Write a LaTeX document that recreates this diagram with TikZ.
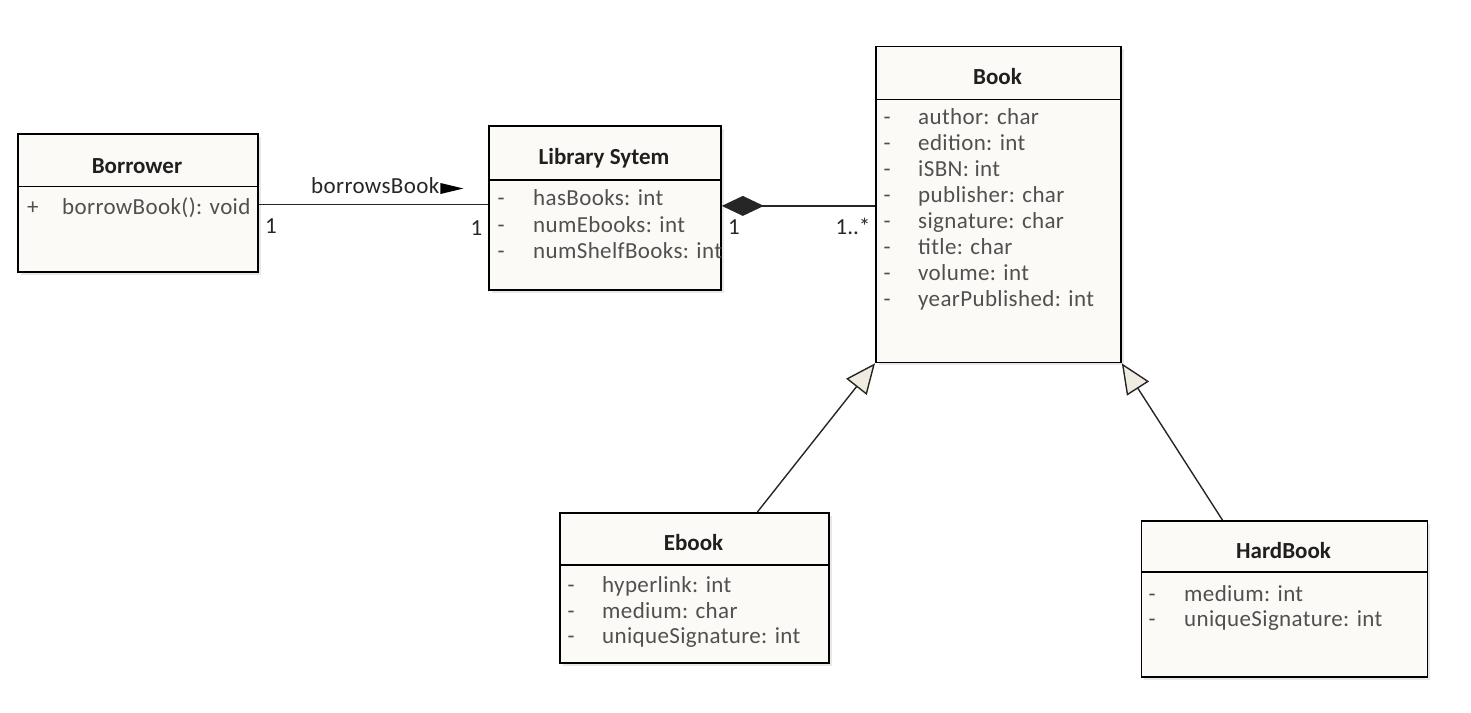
\documentclass[tikz,border=0pt]{standalone}
\usepackage{fontspec}
\setmainfont{Carlito}
\newfontfamily\spacedfont{Carlito}[LetterSpace=1.6]
\usetikzlibrary{arrows.meta,shadows}

\definecolor{boxfill}{RGB}{252,250,246}
\definecolor{tipfill}{RGB}{240,236,226}
\definecolor{membergray}{RGB}{80,80,80}
\newcommand{\umlfont}{\fontsize{23}{27}\selectfont}

\tikzset{
  classbox/.style={draw=black, line width=1.8pt, fill=boxfill, anchor=north west,
    inner sep=0pt, drop shadow={shadow xshift=3pt, shadow yshift=-3pt, fill=black!18}},
  classname/.style={anchor=base, inner sep=0pt, font=\umlfont\bfseries, text=black!88},
  member/.style={anchor=base west, inner sep=0pt, font=\umlfont\spacedfont, text=membergray},
  mult/.style={anchor=base, inner sep=0pt, font=\umlfont, text=black!85},
  divider/.style={line width=1.4pt},
  link/.style={line width=1.4pt, draw=black!85},
  inherit/.style={link, -{Triangle[length=30pt, width=26pt, fill=tipfill]}},
  compose/.style={link, {Diamond[length=42pt, width=20pt]}-},
}

\begin{document}
\begin{tikzpicture}[x=1pt, y=-1pt]
    \useasboundingbox (0,0) rectangle (1471,712);

    % Borrower
    \node[classbox, minimum width=240pt, minimum height=138pt] (borrower) at (17,133) {};
    \node[classname] (borrower-name) at (137,173) {Borrower};
    \draw[divider] ([yshift=-53.5pt]borrower.north west) -- ([yshift=-53.5pt]borrower.north east);
    \node[member] (borrower-vis) at (27,214.5) {+};
    \node[member] (borrower-op) at (62,214.5) {borrowBook(): void};

    % Library Sytem
    \node[classbox, minimum width=232pt, minimum height=164pt] (library) at (488,125) {};
    \node[classname] (library-name) at (604,164) {Library Sytem};
    \draw[divider] ([yshift=-55pt]library.north west) -- ([yshift=-55pt]library.north east);
    \foreach \m [count=\i] in {hasBooks: int, numEbooks: int, numShelfBooks: int}
    {
      \node[member] (library-dash-\i) at (497.5,{205.5+26.5*(\i-1)}) {-};
      \node[member] (library-attr-\i) at (533,{205.5+26.5*(\i-1)}) {\m};
    }

    % Book
    \node[classbox, minimum width=245pt, minimum height=316pt] (book) at (875,45.5) {};
    \node[classname] (book-name) at (997.5,84) {Book};
    \draw[divider] ([yshift=-54pt]book.north west) -- ([yshift=-54pt]book.north east);
    \foreach \m [count=\i] in {author: char, edition: int, iSBN: int, publisher: char,
        signature: char, title: char, volume: int, yearPublished: int}
    {
      \node[member] (book-dash-\i) at (883.5,{124.5+26*(\i-1)}) {-};
      \node[member] (book-attr-\i) at (918,{124.5+26*(\i-1)}) {\m};
    }

    % Ebook
    \node[classbox, minimum width=269pt, minimum height=150pt] (ebook) at (559,512) {};
    \node[classname] (ebook-name) at (693.5,550.5) {Ebook};
    \draw[divider] ([yshift=-53pt]ebook.north west) -- ([yshift=-53pt]ebook.north east);
    \foreach \m [count=\i] in {hyperlink: int, medium: char, uniqueSignature: int}
    {
      \node[member] (ebook-dash-\i) at (567.5,{592.5+25.5*(\i-1)}) {-};
      \node[member] (ebook-attr-\i) at (602,{592.5+25.5*(\i-1)}) {\m};
    }

    % HardBook
    \node[classbox, minimum width=286pt, minimum height=156pt] (hardbook) at (1140.5,520) {};
    \node[classname] (hardbook-name) at (1283.5,558) {HardBook};
    \draw[divider] ([yshift=-52pt]hardbook.north west) -- ([yshift=-52pt]hardbook.north east);
    \foreach \m [count=\i] in {medium: int, uniqueSignature: int}
    {
      \node[member] (hardbook-dash-\i) at (1148.5,{601+25*(\i-1)}) {-};
      \node[member] (hardbook-attr-\i) at (1184,{601+25*(\i-1)}) {\m};
    }

    % borrowsBook
    \draw[link] ([yshift=-1.5pt]borrower.east) -- ([yshift=-1.5pt]borrower.east -| library.west);
    \node[anchor=base west, inner sep=0pt, font=\umlfont\spacedfont, text=black!85] (borrow-label) at (311,193) {borrowsBook};
    \fill[black] ([xshift=1pt, yshift=-1pt]borrow-label.base east) -- ++(0,-11) -- ++(23,5.5) -- cycle;
    \node[mult] (borrow-m1) at (271,233) {1};
    \node[mult] (borrow-m2) at (476.5,235) {1};

    % composition
    \draw[compose] ([yshift=2pt]library.east) -- ([yshift=2pt]library.east -| book.west);
    \node[mult] (comp-m1) at (734,234) {1};
    \node[mult] (comp-m2) at (853,234) {1..*};

    % generalization
    \draw[inherit] ([xshift=63pt]ebook.north) -- (book.south west);
    \draw[inherit] ([xshift=-62pt]hardbook.north) -- (book.south east);
\end{tikzpicture}
\end{document}
